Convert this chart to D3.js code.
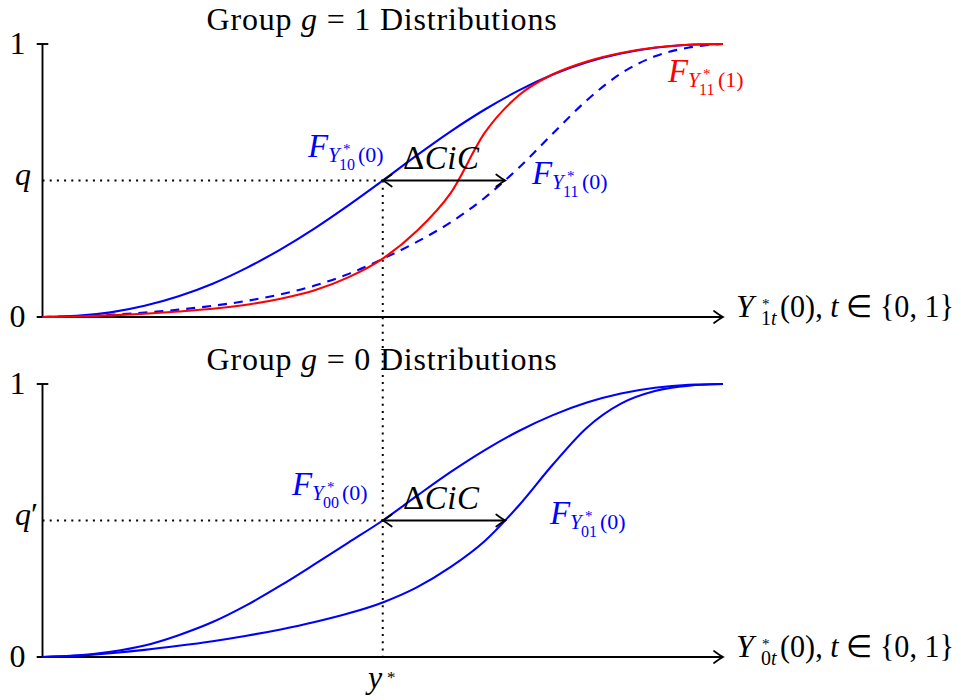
<!DOCTYPE html>
<html>
<head>
<meta charset="utf-8">
<script src="https://cdn.jsdelivr.net/npm/d3@7"></script>
<style>
  body { margin: 0; background: #fff; }
  svg { display: block; }
</style>
</head>
<body>
<svg id="chart" width="961" height="700"></svg>
<script>
// ---------------- data ----------------
const xGrid = [0, 0.5, 1, 1.5, 2, 2.5, 3, 3.5, 4, 4.5, 5, 5.5, 6, 6.5, 7, 7.5, 8, 8.5, 9, 9.5, 10];
// group g = 1
const F10 = [0, 0.004, 0.017, 0.041, 0.076, 0.122, 0.18, 0.248, 0.325, 0.41, 0.5, 0.592, 0.68, 0.76, 0.83, 0.888, 0.933, 0.965, 0.986, 0.997, 1];
const F11_0 = [0, 0.003, 0.008, 0.016, 0.027, 0.041, 0.059, 0.083, 0.115, 0.158, 0.213, 0.275, 0.347, 0.437, 0.547, 0.672, 0.794, 0.892, 0.955, 0.987, 1];
const F11_1 = [0, 0.002, 0.006, 0.012, 0.02, 0.03, 0.045, 0.067, 0.098, 0.146, 0.214, 0.315, 0.455, 0.675, 0.812, 0.889, 0.936, 0.967, 0.987, 0.997, 1];
// group g = 0
const F00 = [0, 0.005, 0.019, 0.042, 0.08, 0.128, 0.19, 0.262, 0.34, 0.42, 0.5, 0.59, 0.678, 0.758, 0.828, 0.886, 0.932, 0.965, 0.986, 0.997, 1];
const F01 = [0, 0.005, 0.014, 0.026, 0.041, 0.058, 0.078, 0.101, 0.128, 0.16, 0.2, 0.255, 0.33, 0.425, 0.555, 0.705, 0.84, 0.928, 0.974, 0.994, 1];

const yStar = 5;        // y*
const qTop = 0.5;       // q
const qBottom = 0.5;    // q'
const cicEnd = 6.8;     // end of the ΔCiC arrow
const xMax = 10;

// ---------------- setup ----------------
const svg = d3.select("#chart");
const FONT = '"Liberation Serif", "Times New Roman", serif';
const BLUE = "#0000ff", RED = "#ff0000";

const x = d3.scaleLinear().domain([0, xMax]).range([42.5, 723]);
const yTop = d3.scaleLinear().domain([0, 1]).range([317, 44]);
const yBot = d3.scaleLinear().domain([0, 1]).range([657, 384]);

const gLines = svg.append("g");
const gText = svg.append("g");

function curve(yS, vals) {
  return d3.line()
    .x((d, i) => x(xGrid[i]))
    .y(d => yS(d))
    .curve(d3.curveMonotoneX)(vals);
}

function txt(px, py, str, size, opt = {}) {
  const t = gText.append("text")
    .attr("x", px).attr("y", py)
    .attr("font-family", FONT)
    .attr("font-size", size)
    .attr("fill", opt.fill || "#000")
    .text(str);
  if (opt.italic) t.attr("font-style", "italic");
  if (opt.anchor) t.attr("text-anchor", opt.anchor);
  return t;
}

function arrowHead(px, py, dir) {
  gLines.append("path")
    .attr("d", "M-9,-6 Q-3,-1.5 0,0 Q-3,1.5 -9,6")
    .attr("transform", `translate(${px},${py}) rotate(${dir === "left" ? 180 : 0})`)
    .attr("fill", "none").attr("stroke", "#000")
    .attr("stroke-width", 1.7).attr("stroke-linecap", "round");
}

// F_{Y*_{ab}(c)} label
function fLabel(px, base, sub, arg, color) {
  txt(px, base, "F", 33, { italic: true, fill: color });
  txt(px + 20, base + 5, "Y", 21, { italic: true, fill: color });
  txt(px + 35, base - 3, "*", 15, { fill: color });
  txt(px + 31, base + 13, sub, 16, { fill: color });
  txt(px + 50, base + 5, "(" + arg + ")", 22, { fill: color });
}

function title(base, digit) {
  const t = txt(382, base, "", 32, { anchor: "middle" }).attr("letter-spacing", 0.8);
  t.append("tspan").text("Group ");
  t.append("tspan").attr("font-style", "italic").text("g");
  t.append("tspan").text(" = " + digit + " Distributions");
}

function xLabel(base, sub) {
  const x0 = 736;
  txt(x0, base, "Y", 32, { italic: true });
  // superscript * and subscript stacked, in one text element
  const s = txt(x0 + 26, base - 8, "", 15);
  s.append("tspan").text("*");
  const sb = s.append("tspan").attr("x", x0 + 25).attr("y", base + 8).attr("font-size", 20);
  sb.append("tspan").text(sub);
  sb.append("tspan").attr("font-style", "italic").text("t");
  const t = txt(x0 + 44, base, "", 31)
    .attr("textLength", 174).attr("lengthAdjust", "spacingAndGlyphs");
  t.append("tspan").text("(0), ");
  t.append("tspan").attr("font-style", "italic").text("t");
  t.append("tspan").text(" \u2208 {0, 1}");
}

function cic(yS, qv) {
  const yy = yS(qv);
  gLines.append("line")
    .attr("x1", x(yStar)).attr("x2", x(cicEnd))
    .attr("y1", yy).attr("y2", yy)
    .attr("stroke", "#000").attr("stroke-width", 1.8);
  arrowHead(x(yStar), yy, "left");
  arrowHead(x(cicEnd), yy, "right");
  const t = txt(403, yy - 12, "", 33).attr("letter-spacing", 0.5);
  t.append("tspan").text("\u0394");
  t.append("tspan").attr("font-style", "italic").text("CiC");
}

function axes(yS, qv, qText) {
  gLines.append("line")
    .attr("x1", x(0)).attr("x2", x(yStar))
    .attr("y1", yS(qv)).attr("y2", yS(qv))
    .attr("stroke", "#000").attr("stroke-width", 2)
    .attr("stroke-dasharray", "2,5.2");
  gLines.append("line")
    .attr("x1", x(0)).attr("x2", x(0))
    .attr("y1", yS(0)).attr("y2", yS(1))
    .attr("stroke", "#000").attr("stroke-width", 1.9);
  gLines.append("line")
    .attr("x1", x(0) - 5.8).attr("x2", x(0) + 5.8)
    .attr("y1", yS(1)).attr("y2", yS(1))
    .attr("stroke", "#000").attr("stroke-width", 1.9);
  gLines.append("line")
    .attr("x1", x(0) - 5.8).attr("x2", x(xMax))
    .attr("y1", yS(0)).attr("y2", yS(0))
    .attr("stroke", "#000").attr("stroke-width", 1.9);
  arrowHead(x(xMax), yS(0), "right");
  txt(17.5, yS(1) + 10, "1", 32, { anchor: "middle" });
  txt(17.5, yS(0) + 10, "0", 32, { anchor: "middle" });
  const qt = txt(15, yS(qv) + 4, "q", 32, { italic: true });
  if (qText) qt.append("tspan").attr("font-style", "normal").text(qText);
}

// ---------------- vertical dotted line at y* ----------------
gLines.append("line")
  .attr("x1", x(yStar)).attr("x2", x(yStar))
  .attr("y1", yTop(qTop)).attr("y2", yBot(0))
  .attr("stroke", "#000").attr("stroke-width", 2)
  .attr("stroke-dasharray", "2,5.2");

// ---------------- top panel ----------------
axes(yTop, qTop, "");
gLines.append("path").attr("d", curve(yTop, F10))
  .attr("fill", "none").attr("stroke", BLUE).attr("stroke-width", 2.1);
gLines.append("path").attr("d", curve(yTop, F11_0))
  .attr("fill", "none").attr("stroke", BLUE).attr("stroke-width", 2.1)
  .attr("stroke-dasharray", "9,7");
gLines.append("path").attr("d", curve(yTop, F11_1))
  .attr("fill", "none").attr("stroke", RED).attr("stroke-width", 2.1);
cic(yTop, qTop);
title(30, "1");
xLabel(yTop(0), "1");
fLabel(308, 157, "10", "0", BLUE);
fLabel(532, 184, "11", "0", BLUE);
fLabel(668, 82, "11", "1", RED);

// ---------------- bottom panel ----------------
axes(yBot, qBottom, "\u2032");
gLines.append("path").attr("d", curve(yBot, F00))
  .attr("fill", "none").attr("stroke", BLUE).attr("stroke-width", 2.1);
gLines.append("path").attr("d", curve(yBot, F01))
  .attr("fill", "none").attr("stroke", BLUE).attr("stroke-width", 2.1);
cic(yBot, qBottom);
title(370, "0");
xLabel(yBot(0), "0");
fLabel(292, 495, "00", "0", BLUE);
fLabel(550, 524, "01", "0", BLUE);

// y* label
txt(368, 688, "y", 32, { italic: true });
txt(387, 683, "*", 17);
</script>
</body>
</html>
